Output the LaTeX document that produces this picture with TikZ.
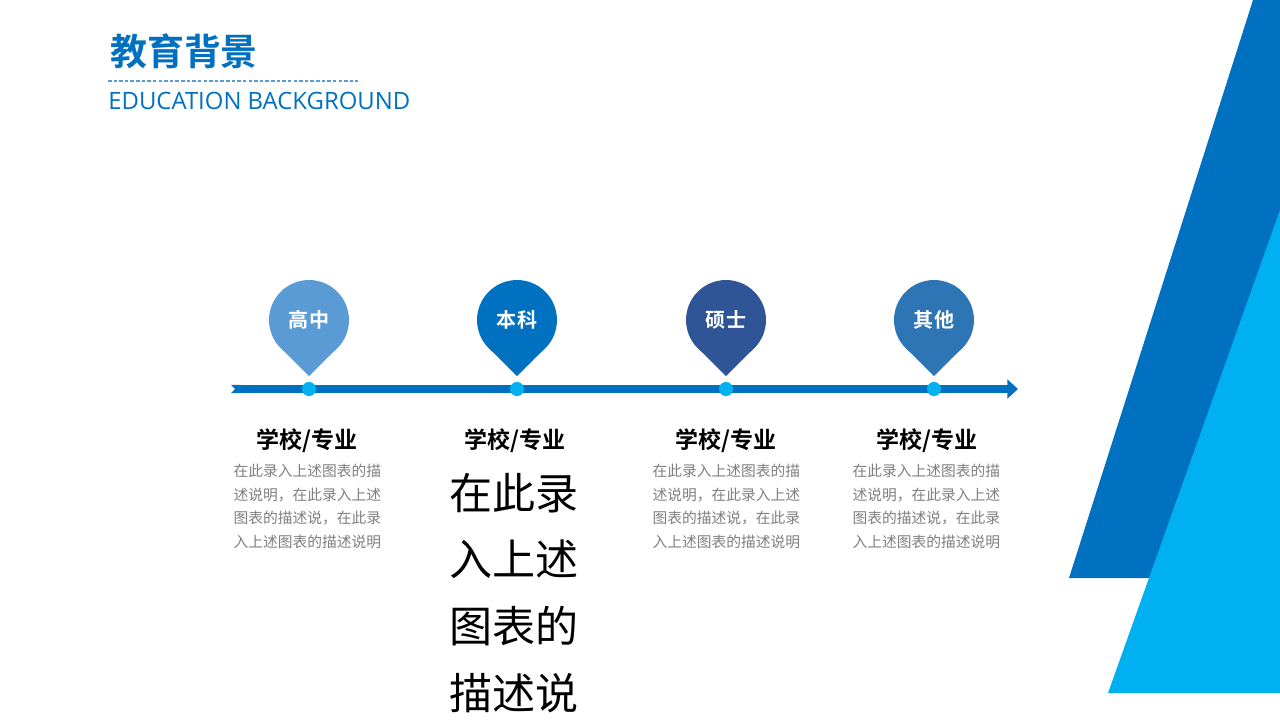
\documentclass[tikz,border=0pt]{standalone}
\usepackage{fontspec}
\setmainfont{Noto Sans CJK SC}[BoldFont={Noto Sans CJK SC Bold}]
\newfontfamily\latinfont{Open Sans}
\usepackage{tikz}
\usetikzlibrary{arrows,arrows.meta,shapes,positioning}

\definecolor{mainblue}{HTML}{0070C0}
\definecolor{lightblue}{HTML}{00B0F0}
\definecolor{dashblue}{HTML}{5B9BD5}
\definecolor{pinA}{HTML}{5B9BD5}
\definecolor{pinB}{HTML}{0070C0}
\definecolor{pinC}{HTML}{2F5597}
\definecolor{pinD}{HTML}{2E75B6}
\definecolor{descgray}{HTML}{7F7F7F}

\begin{document}
\begin{tikzpicture}[x=0.02cm,y=-0.02cm,>=stealth']

  \tikzstyle{pin}=[circle,inner sep=0pt,minimum size=45.5pt,text=white,font=\bfseries\fontsize{11.4}{12}\selectfont]
  \tikzstyle{pin tip}=[diamond,inner sep=0pt,minimum size=32.2pt]
  \tikzstyle{dot}=[circle,fill=lightblue,inner sep=0pt,minimum size=8pt]
  \tikzstyle{heading}=[inner sep=0pt,font=\bfseries\fontsize{13.1}{14}\selectfont]
  \tikzstyle{desc}=[inner sep=0pt,text width=86pt,align=left,text=descgray,font=\fontsize{8.4}{13.4}\selectfont]
  \tikzstyle{big desc}=[inner sep=0pt,text width=75pt,align=left,font=\fontsize{24.5}{38}\selectfont]

  \useasboundingbox (0,0) rectangle (1280,720);

  \fill[mainblue] (1253,0) -- (1280,0) -- (1280,578) -- (1069,578) -- cycle;
  \fill[lightblue] (1280,210) -- (1280,693) -- (1108,693) -- cycle;

  \node[text=mainblue,font=\bfseries\fontsize{21}{24}\selectfont] (title) at (184,51) {教育背景};
  \coordinate (dash start) at (108,81);
  \coordinate (dash end) at (358,81);
  \draw[dashblue,line width=0.7pt,dash pattern=on 2pt off 1.2pt] (dash start) -- (dash end);
  \node[anchor=west,inner sep=0pt,text=mainblue,font=\latinfont\fontsize{13.6}{15}\selectfont] (subtitle) at (108,101) {EDUCATION BACKGROUND};

  \coordinate (tl start) at (231,389);
  \coordinate (tl end) at (1018,389);
  \draw[mainblue,line width=4.6pt,{Triangle Cap[reversed]}-{Triangle[length=6pt,width=10.5pt]}] (tl start) -- (tl end);

  \path  (309,389)  node[dot]              (d1) {}
         +(0,-41)   node[pin tip,fill=pinA] (t1) {}
         +(0,-69)   node[pin,fill=pinA]     (p1) {高中}
         +(-2,52)   node[heading]           (h1) {学校/专业};
  \path  (517,389)  node[dot]              (d2) {}
         +(0,-41)   node[pin tip,fill=pinB] (t2) {}
         +(0,-69)   node[pin,fill=pinB]     (p2) {本科}
         +(-2,52)   node[heading]           (h2) {学校/专业};
  \path  (726,389)  node[dot]              (d3) {}
         +(0,-41)   node[pin tip,fill=pinC] (t3) {}
         +(0,-69)   node[pin,fill=pinC]     (p3) {硕士}
         +(0,52)    node[heading]           (h3) {学校/专业};
  \path  (934,389)  node[dot]              (d4) {}
         +(0,-41)   node[pin tip,fill=pinD] (t4) {}
         +(0,-69)   node[pin,fill=pinD]     (p4) {其他}
         +(-7,52)   node[heading]           (h4) {学校/专业};

  \node[desc,below=6pt of h1,xshift=1.2pt] (s1) {在此录入上述图表的描\\述说明，在此录入上述\\图表的描述说，在此录\\入上述图表的描述说明};
  \node[big desc,below=11pt of h2] (s2) {在此录\\入上述\\图表的\\描述说};
  \node[desc,below=6pt of h3,xshift=1.2pt] (s3) {在此录入上述图表的描\\述说明，在此录入上述\\图表的描述说，在此录\\入上述图表的描述说明};
  \node[desc,below=6pt of h4,xshift=0.6pt] (s4) {在此录入上述图表的描\\述说明，在此录入上述\\图表的描述说，在此录\\入上述图表的描述说明};

\end{tikzpicture}
\end{document}
